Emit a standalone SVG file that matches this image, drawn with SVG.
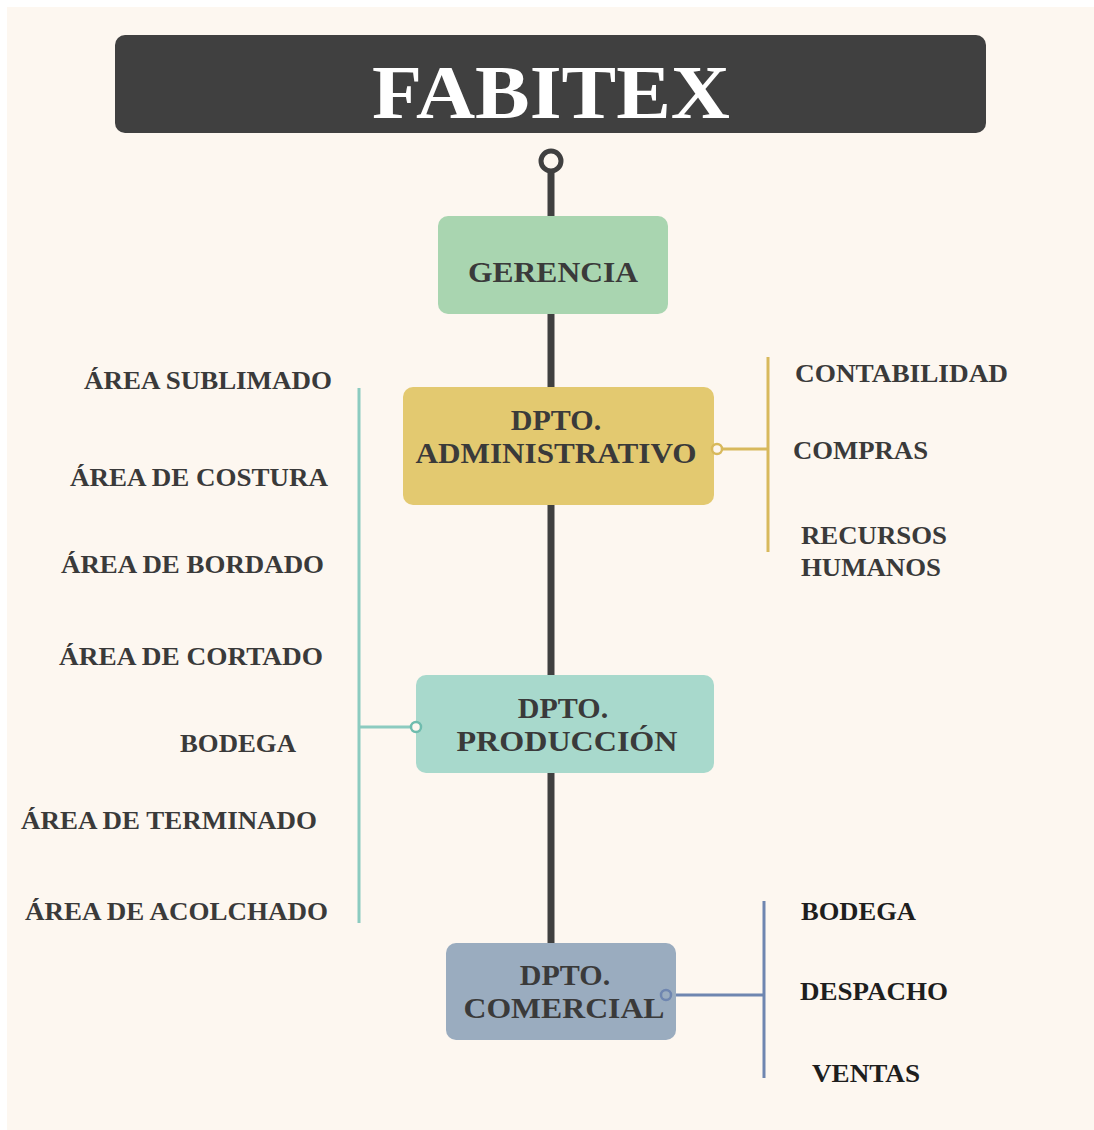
<svg xmlns="http://www.w3.org/2000/svg" width="1094" height="1130" viewBox="0 0 1094 1130">
<style>
.t{font-family:"Liberation Serif","Times New Roman",serif;font-weight:bold;fill:#3a3a3a;font-size:26px}
.n{font-family:"Liberation Serif","Times New Roman",serif;font-weight:bold;fill:#3a3a3a;font-size:30px;text-anchor:middle}
.k{fill:#1e1e1e}
</style>
<rect x="0" y="0" width="1094" height="1130" fill="#ffffff"/>
<rect x="7" y="7" width="1087" height="1123" fill="#fdf7f0"/>
<g id="connectors">
<line x1="551" y1="171" x2="551" y2="945" stroke="#404040" stroke-width="7"/>
<circle cx="551" cy="161" r="10" fill="none" stroke="#404040" stroke-width="5"/>
<line x1="722" y1="449" x2="768" y2="449" stroke="#d8b95c" stroke-width="3"/>
<line x1="768" y1="357" x2="768" y2="552" stroke="#d8b95c" stroke-width="3"/>
<line x1="359" y1="727" x2="411" y2="727" stroke="#8ccbc0" stroke-width="3"/>
<line x1="359" y1="388" x2="359" y2="923" stroke="#8ccbc0" stroke-width="3"/>
<line x1="671" y1="995" x2="764" y2="995" stroke="#6f86b0" stroke-width="3"/>
<line x1="764" y1="901" x2="764" y2="1078" stroke="#6f86b0" stroke-width="3"/>
</g>
<g id="title">
<rect x="115" y="35" width="871" height="98" rx="10" fill="#404040"/>
<text x="551" y="118" text-anchor="middle" font-family="Liberation Serif, Times New Roman, serif" font-weight="bold" font-size="76" fill="#ffffff" textLength="358" lengthAdjust="spacingAndGlyphs">FABITEX</text>
</g>
<g id="gerencia">
<rect x="438" y="216" width="230" height="98" rx="10" fill="#a9d5b0"/>
<text class="n" x="553" y="282" textLength="170" lengthAdjust="spacingAndGlyphs">GERENCIA</text>
</g>
<g id="administrativo">
<rect x="403" y="387" width="311" height="118" rx="10" fill="#e3c970"/>
<text class="n" x="556" y="430">DPTO.</text>
<text class="n" x="556" y="463" textLength="281" lengthAdjust="spacingAndGlyphs">ADMINISTRATIVO</text>
<circle cx="717" cy="449" r="5" fill="#fdf7f0" stroke="#d8b95c" stroke-width="2.5"/>
</g>
<g id="produccion">
<rect x="416" y="675" width="298" height="98" rx="10" fill="#a8d9cc"/>
<text class="n" x="563" y="718">DPTO.</text>
<text class="n" x="567" y="751" textLength="221" lengthAdjust="spacingAndGlyphs">PRODUCCIÓN</text>
<circle cx="416" cy="727" r="5" fill="#fdf7f0" stroke="#6fbcae" stroke-width="2.5"/>
</g>
<g id="comercial">
<rect x="446" y="943" width="230" height="97" rx="10" fill="#9aacbf"/>
<text class="n" x="565" y="985">DPTO.</text>
<text class="n" x="564" y="1018" textLength="201" lengthAdjust="spacingAndGlyphs">COMERCIAL</text>
<circle cx="666" cy="995" r="5" fill="#9aacbf" stroke="#6f86b0" stroke-width="2.5"/>
</g>
<g id="admin-items">
<text class="t" x="795" y="382" textLength="213" lengthAdjust="spacingAndGlyphs">CONTABILIDAD</text>
<text class="t" x="793" y="459" textLength="135" lengthAdjust="spacingAndGlyphs">COMPRAS</text>
<text class="t" x="801" y="544" textLength="146" lengthAdjust="spacingAndGlyphs">RECURSOS</text>
<text class="t" x="801" y="576" textLength="140" lengthAdjust="spacingAndGlyphs">HUMANOS</text>
</g>
<g id="produccion-items">
<text class="t" x="84" y="389" textLength="248" lengthAdjust="spacingAndGlyphs">ÁREA SUBLIMADO</text>
<text class="t" x="70" y="486" textLength="258" lengthAdjust="spacingAndGlyphs">ÁREA DE COSTURA</text>
<text class="t" x="61" y="573" textLength="263" lengthAdjust="spacingAndGlyphs">ÁREA DE BORDADO</text>
<text class="t" x="59" y="665" textLength="264" lengthAdjust="spacingAndGlyphs">ÁREA DE CORTADO</text>
<text class="t" x="180" y="752" textLength="116" lengthAdjust="spacingAndGlyphs">BODEGA</text>
<text class="t" x="21" y="829" textLength="296" lengthAdjust="spacingAndGlyphs">ÁREA DE TERMINADO</text>
<text class="t" x="25" y="920" textLength="303" lengthAdjust="spacingAndGlyphs">ÁREA DE ACOLCHADO</text>
</g>
<g id="comercial-items">
<text class="t k" x="801" y="920" textLength="115" lengthAdjust="spacingAndGlyphs">BODEGA</text>
<text class="t k" x="800" y="1000" textLength="148" lengthAdjust="spacingAndGlyphs">DESPACHO</text>
<text class="t k" x="812" y="1082" textLength="108" lengthAdjust="spacingAndGlyphs">VENTAS</text>
</g>
</svg>
